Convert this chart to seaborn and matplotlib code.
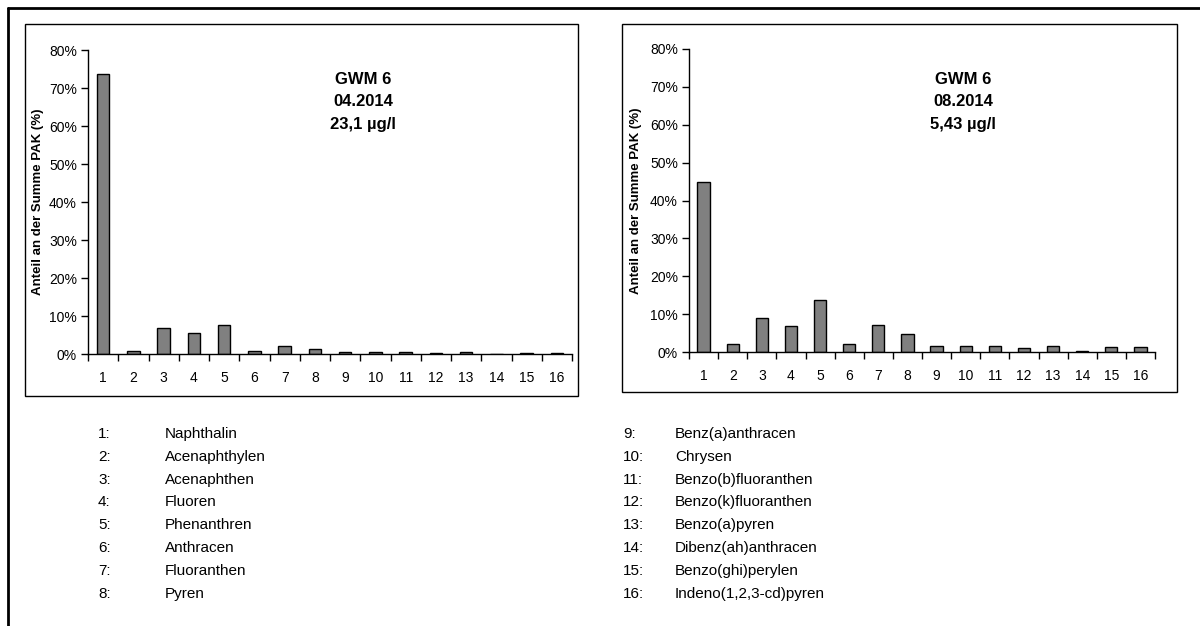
import matplotlib
matplotlib.use("Agg")
import matplotlib.pyplot as plt
from matplotlib.patches import Rectangle
from matplotlib.lines import Line2D
from matplotlib.ticker import FuncFormatter, FixedLocator
import seaborn as sns
import pandas as pd

sns.set_theme(style="white")
plt.rcParams["font.family"] = ["Liberation Sans", "DejaVu Sans"]

# PAK components (numbered 1..16)
categories = [str(i) for i in range(1, 17)]
compounds = [
    "Naphthalin", "Acenaphthylen", "Acenaphthen", "Fluoren",
    "Phenanthren", "Anthracen", "Fluoranthen", "Pyren",
    "Benz(a)anthracen", "Chrysen", "Benzo(b)fluoranthen", "Benzo(k)fluoranthen",
    "Benzo(a)pyren", "Dibenz(ah)anthracen", "Benzo(ghi)perylen", "Indeno(1,2,3-cd)pyren",
]

# Share of the PAK sum (%) per sampling campaign
share_04_2014 = [73.8, 0.7, 6.9, 5.4, 7.6, 0.9, 2.2, 1.2, 0.5, 0.5, 0.4, 0.3, 0.5, 0.1, 0.2, 0.3]
share_08_2014 = [44.9, 2.2, 9.0, 6.9, 13.8, 2.0, 7.2, 4.8, 1.7, 1.7, 1.6, 1.1, 1.7, 0.3, 1.2, 1.2]

panel_titles = [
    ["GWM 6", "04.2014", "23,1 µg/l"],
    ["GWM 6", "08.2014", "5,43 µg/l"],
]
yticks = [0, 10, 20, 30, 40, 50, 60, 70, 80]
ylabel = "Anteil an der Summe PAK (%)"

W, H = 1200, 626
fig = plt.figure(figsize=(W / 100, H / 100), dpi=100)
fig.patch.set_facecolor("white")


def fx(px):
    return px / W


def fy(py):
    return 1 - py / H


# outer frame (top and left edges)
fig.add_artist(Line2D([fx(8), 1.0], [fy(7.5), fy(7.5)], color="black", lw=2.0,
                      transform=fig.transFigure))
fig.add_artist(Line2D([fx(8), fx(8)], [fy(7.5), 0.0], color="black", lw=2.0,
                      transform=fig.transFigure))

# chart boxes
for (x0, y0, x1, y1) in [(25, 24, 578, 396), (622, 24, 1177, 392)]:
    fig.add_artist(Rectangle((fx(x0), fy(y1)), fx(x1 - x0), (y1 - y0) / H,
                             fill=False, edgecolor="black", lw=1.0,
                             transform=fig.transFigure))

# axes placement in pixels: left, right, top(80%), bottom(0%)
axes_px = [(88, 572, 50, 354), (689, 1155, 49, 352)]
series = [share_04_2014, share_08_2014]
title_cx = [363, 963]
ylabel_x = [38, 636]

for k in range(2):
    l, r, t, b = axes_px[k]
    ax = fig.add_axes([fx(l), fy(b), fx(r - l), (b - t) / H])
    df = pd.DataFrame({"Nr": categories, "Anteil": series[k]})
    sns.barplot(data=df, x="Nr", y="Anteil", ax=ax, color="#808080",
                saturation=1, edgecolor="black", linewidth=1.0, width=0.42)
    ax.set_xlim(-0.5, 15.5)
    ax.set_ylim(0, 80)
    ax.set_facecolor("white")
    for s in ["top", "right"]:
        ax.spines[s].set_visible(False)
    for s in ["left", "bottom"]:
        ax.spines[s].set_color("black")
        ax.spines[s].set_linewidth(1.0)
    ax.set_yticks(yticks)
    ax.yaxis.set_major_formatter(FuncFormatter(lambda v, p: f"{v:.0f}%"))
    ax.tick_params(axis="y", which="major", direction="out", length=5, width=1,
                   color="black", labelsize=10, pad=3, left=True)
    ax.tick_params(axis="x", which="major", length=0, labelsize=10, pad=12)
    ax.xaxis.set_minor_locator(FixedLocator([i - 0.5 for i in range(17)]))
    ax.tick_params(axis="x", which="minor", direction="out", length=5, width=1,
                   color="black", bottom=True)
    ax.set_xlabel("")
    ax.set_ylabel("")
    for lab in ax.get_xticklabels() + ax.get_yticklabels():
        lab.set_color("black")

    fig.text(fx(ylabel_x[k]), fy((t + b) / 2), ylabel, rotation=90,
             ha="center", va="center", fontsize=9.5, fontweight="bold", color="black")
    for j, line in enumerate(panel_titles[k]):
        fig.text(fx(title_cx[k]), fy(80 + 22 * j), line, ha="center", va="center",
                 fontsize=12, fontweight="bold", color="black")

# legend listing of compound numbers
row_y0, row_dy = 434, 22.8
for i, name in enumerate(compounds):
    if i < 8:
        nx, tx, row = 98, 165, i
    else:
        nx, tx, row = 623, 675, i - 8
    y = fy(row_y0 + row_dy * row)
    fig.text(fx(nx), y, f"{i + 1}:", ha="left", va="center", fontsize=11, color="black")
    fig.text(fx(tx), y, name, ha="left", va="center", fontsize=11, color="black")

fig.savefig("out.png", dpi=100, facecolor="white")
